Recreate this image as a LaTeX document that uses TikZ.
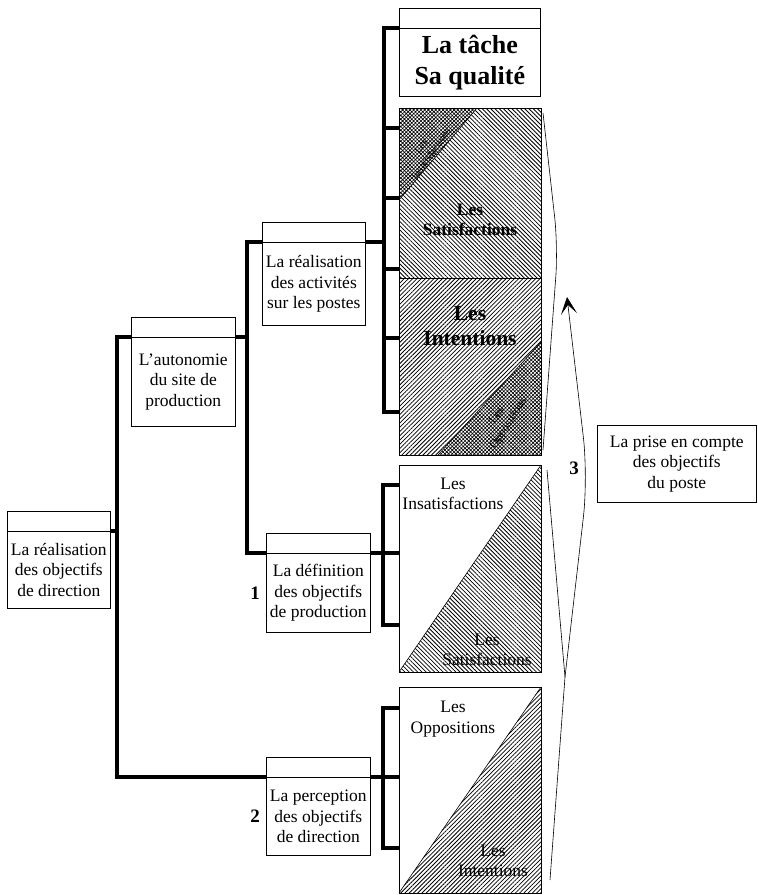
\documentclass[tikz,border=0pt]{standalone}
\usepackage{fontspec}
\setmainfont{Liberation Serif}
\usepackage{tikz}
\usetikzlibrary{arrows.meta,positioning,patterns.meta}
\tikzset{
  boxbody/.style={
    draw=black,
    line width=0.6pt,
    fill=white,
    inner sep=0pt,
    anchor=north west,
    align=center,
    font=\fontsize{17.5}{20.5}\selectfont
  },
  titlebar/.style={
    draw=black,
    line width=0.6pt
  },
  panel/.style={
    draw=black,
    line width=0.6pt,
    inner sep=0pt,
    anchor=north west,
    minimum width=142pt
  },
  paneltext/.style={
    align=center,
    inner sep=0pt,
    font=\fontsize{17.5}{20.5}\selectfont
  },
  numlabel/.style={
    inner sep=2pt,
    font=\fontsize{19}{19}\bfseries\selectfont
  },
  link/.style={
    line width=3.2pt
  },
  guide/.style={
    line width=0.6pt
  },
  lightlines/.style={pattern={Lines[angle=#1,distance=3pt,line width=0.8pt]}},
  darkhatch/.style={pattern={Hatch[angle=45,distance=2.6pt,line width=0.65pt]}}
}

\begin{document}
\begin{tikzpicture}[x=1pt,y=-1pt]
\useasboundingbox (0,0) rectangle (758,895);

\fill[lightlines=-45] (399,108) rectangle (541,278);
\fill[white] (399,108) -- (477,108) -- (399,200) -- cycle;
\fill[darkhatch] (399,108) -- (477,108) -- (399,200) -- cycle;
\fill[lightlines=45] (399,278) rectangle (541,455);
\fill[white] (541,342) -- (541,455) -- (438,455) -- cycle;
\fill[darkhatch] (541,342) -- (541,455) -- (438,455) -- cycle;
\fill[lightlines=-45] (399,672) -- (541,465) -- (541,672) -- cycle;
\fill[lightlines=45] (399,893) -- (541,687) -- (541,893) -- cycle;
\draw[guide] (477,108) -- (399,200);
\draw[guide] (399,278) -- (541,278);
\draw[guide] (541,342) -- (438,455);
\draw[guide] (399,672) -- (541,465);
\draw[guide] (399,893) -- (541,687);

\node[panel, minimum height=347pt] (ressenti) at (399,108) {};
\node[panel, minimum height=207pt] (insat) at (399,465) {};
\node[panel, minimum height=206pt] (opposit) at (399,687) {};

\node[boxbody, minimum width=103pt, minimum height=77pt] (objdir) at (7,531) {La réalisation\\des objectifs\\de direction};
\node[boxbody, minimum width=104pt, minimum height=89pt] (autonomie) at (131,337) {L'autonomie\\du site de\\production};
\node[boxbody, minimum width=103pt, minimum height=83pt] (activites) at (262,242) {La réalisation\\des activités\\sur les postes};
\node[boxbody, minimum width=141pt, minimum height=68pt, font=\fontsize{26}{31}\bfseries\selectfont] (tache) at (399,28) {La tâche\\Sa qualité};
\node[boxbody, minimum width=104pt, minimum height=79pt] (definition) at (266,553) {La définition\\des objectifs\\de production};
\node[boxbody, minimum width=104pt, minimum height=78pt] (perception) at (266,777) {La perception\\des objectifs\\de direction};
\node[boxbody, minimum width=159pt, minimum height=77pt] (prise) at (597,425) {La prise en compte\\des objectifs\\du poste};
\foreach \b in {objdir,autonomie,activites,tache,definition,perception}
  \draw[titlebar] (\b.north west) rectangle ([yshift=20pt]\b.north east);

\node[paneltext, font=\fontsize{17.5}{20}\bfseries\selectfont] (satisf) at (470,220) {Les\\Satisfactions};
\node[paneltext, font=\fontsize{21.5}{25}\bfseries\selectfont] (intent) at (470,326) {Les\\Intentions};
\node[paneltext, font=\fontsize{10.5}{12.5}\selectfont, rotate=55] (insatsmall) at (426,150) {Les\\Insatisfactions};
\node[paneltext, font=\fontsize{12}{14}\selectfont, rotate=57] (opposmall) at (503,420) {Les\\Oppositions};
\node[paneltext] (insattxt) at (453,494) {Les\\Insatisfactions};
\node[paneltext] (satistxt) at (487,650) {Les\\Satisfactions};
\node[paneltext] (oppotxt) at (453,719) {Les\\Oppositions};
\node[paneltext] (intenttxt) at (493,861) {Les\\Intentions};

\node[numlabel, left=4pt of definition] (un) {1};
\node[numlabel, left=4pt of perception] (deux) {2};
\node[numlabel] (trois) at (574,468) {3};

\coordinate (trunkA) at (117,0);
\coordinate (trunkB) at (247,0);
\coordinate (trunkC) at (384,0);
\draw[link] (objdir.north east) -- (objdir.north east -| trunkA);
\draw[link] (autonomie.north west) -| (trunkA |- perception.north west) -- (perception.north west);
\draw[link] (autonomie.north east) -- (autonomie.north east -| trunkB);
\draw[link] (activites.north west) -| (trunkB |- definition.north west) -- (definition.north west);
\draw[link] (activites.north east) -- (activites.north east -| trunkC);
\draw[link] (tache.north west) -| (384,412) -- (399,412);
\foreach \y in {128,198,269,338}
  \draw[link] (384,\y) -- (399,\y);
\draw[link] (definition.north east) -- (definition.north east -| insat.west);
\draw[link] (399,485) -| (383,625) -- (399,625);
\draw[link] (perception.north east) -- (perception.north east -| opposit.west);
\draw[link] (399,708) -| (383,848) -- (399,848);

\coordinate (fork) at (565,677);
\draw[guide, rounded corners=30pt] (543,113) -- (558,247) -- (543,450);
\draw[guide] (550,880) -- (fork) -- (547,470);
\draw[guide, rounded corners=40pt, -{Stealth[length=17pt,width=16pt,inset=9pt]}] (fork) -- (588,477) -- (567,297);
\end{tikzpicture}
\end{document}
